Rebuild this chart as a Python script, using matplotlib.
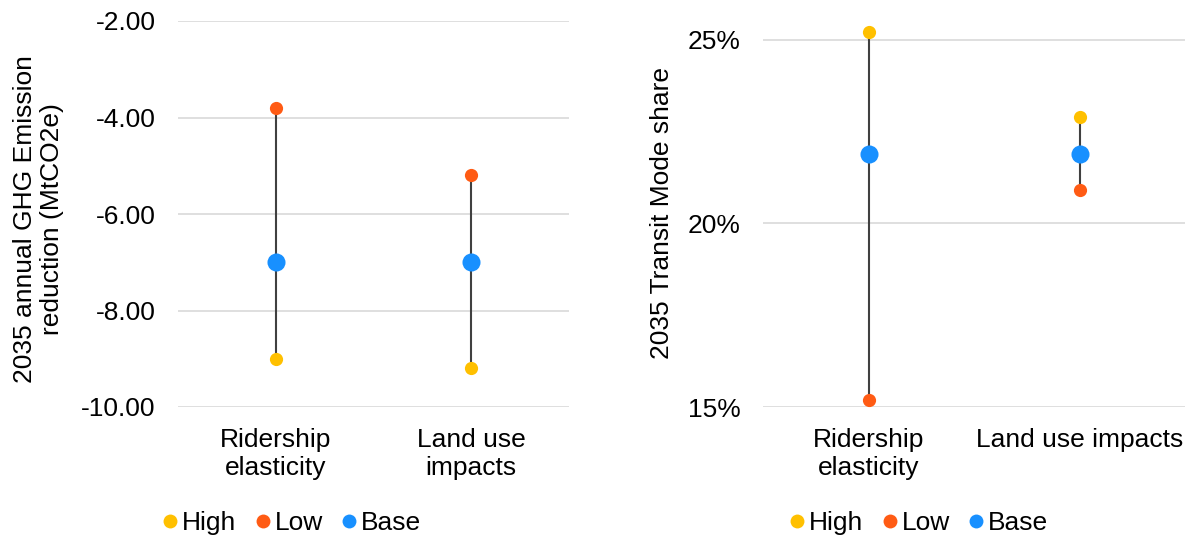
import matplotlib.pyplot as plt
from matplotlib.lines import Line2D
from matplotlib.ticker import FuncFormatter
import numpy as np

plt.rcParams['font.family'] = ['Liberation Sans', 'DejaVu Sans']
plt.rcParams['font.size'] = 19

categories = ["Ridership\nelasticity", "Land use\nimpacts"]
categories_right = ["Ridership\nelasticity", "Land use impacts"]

# GHG emission reduction (MtCO2e)
ghg_high = [-9.0, -9.2]
ghg_low = [-3.8, -5.2]
ghg_base = [-7.0, -7.0]

# transit mode share (%)
share_high = [25.2, 22.9]
share_low = [15.2, 20.9]
share_base = [21.9, 21.9]

c_high = "#FFC000"
c_low = "#FF5B14"
c_base = "#1890FF"
c_line = "#404040"
c_grid = "#D9D9D9"


def draw_range(ax, high, low, base):
    x = np.arange(len(high))
    for xi, h, l in zip(x, high, low):
        ax.plot([xi, xi], [l, h], color=c_line, lw=1.5, zorder=2)
    ax.plot(x, high, "o", color=c_high, ms=9.5, zorder=3, mec="none")
    ax.plot(x, low, "o", color=c_low, ms=9.5, zorder=3, mec="none")
    ax.plot(x, base, "o", color=c_base, ms=13, zorder=4, mec="none")
    ax.set_xlim(-0.5, len(high) - 0.5)
    ax.set_xticks(x)
    for s in ax.spines.values():
        s.set_visible(False)
    ax.grid(axis="y", color=c_grid, lw=1.2)
    ax.set_axisbelow(True)
    ax.tick_params(length=0)
    ax.tick_params(axis="x", pad=15)
    ax.tick_params(axis="y", pad=16)


fig = plt.figure(figsize=(11.9, 5.39), dpi=100)

ax1 = fig.add_axes([178 / 1190, 1 - 407 / 539, 391 / 1190, 386 / 539])
draw_range(ax1, ghg_high, ghg_low, ghg_base)
ax1.set_ylim(-10, -2)
ax1.set_yticks([-10, -8, -6, -4, -2])
ax1.yaxis.set_major_formatter(FuncFormatter(lambda v, p: f"{v:.2f}"))
ax1.set_xticklabels(categories)
ax1.set_ylabel("2035 annual GHG Emission\nreduction (MtCO2e)", linespacing=1.15)
ax1.yaxis.set_label_coords(-0.292, 0.487)

ax2 = fig.add_axes([763 / 1190, 1 - 407 / 539, 422 / 1190, 404 / 539])
draw_range(ax2, share_high, share_low, share_base)
ax2.set_ylim(15, 26)
ax2.set_yticks([15, 20, 25])
ax2.yaxis.set_major_formatter(FuncFormatter(lambda v, p: f"{v:.0f}%"))
ax2.set_xticklabels(categories_right)
ax2.set_ylabel("2035 Transit Mode share")
ax2.yaxis.set_label_coords(-0.21, 0.48)

handles = [
    Line2D([], [], ls="none", marker="o", color=c_high, ms=10, mec="none", label="High"),
    Line2D([], [], ls="none", marker="o", color=c_low, ms=10, mec="none", label="Low"),
    Line2D([], [], ls="none", marker="o", color=c_base, ms=10, mec="none", label="Base"),
]
for cx in (292, 919):
    fig.legend(handles=handles, loc="center", bbox_to_anchor=(cx / 1190, 1 - 523 / 539),
               ncol=3, frameon=False, handletextpad=0.15, columnspacing=0.7,
               handlelength=0.6, borderaxespad=0, borderpad=0)

fig.savefig("out.png", dpi=100)
